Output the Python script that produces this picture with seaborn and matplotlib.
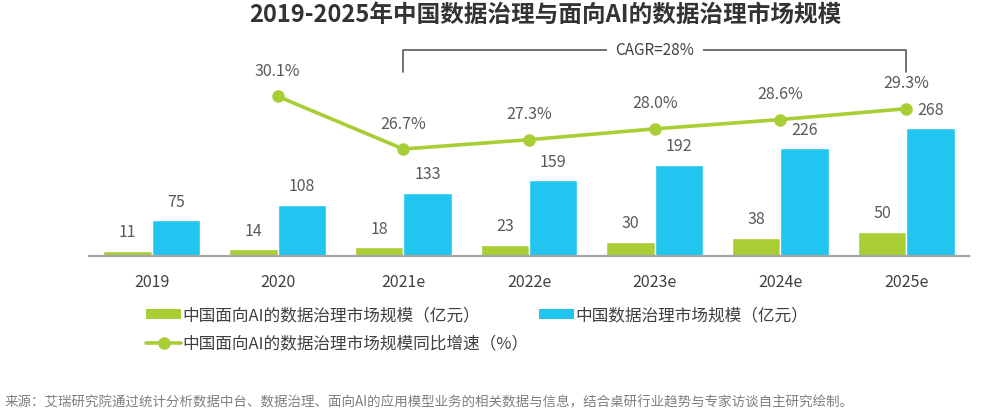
import numpy as np
import pandas as pd
import matplotlib
matplotlib.use("Agg")
import matplotlib.pyplot as plt
import matplotlib.transforms as mtransforms
from matplotlib.patches import Patch
from matplotlib.lines import Line2D
import seaborn as sns

years = ["2019", "2020", "2021e", "2022e", "2023e", "2024e", "2025e"]
ai_market = [11, 14, 18, 23, 30, 38, 50]
total_market = [75, 108, 133, 159, 192, 226, 268]
growth_years = ["2020", "2021e", "2022e", "2023e", "2024e", "2025e"]
growth = [30.1, 26.7, 27.3, 28.0, 28.6, 29.3]

name_ai = "中国面向AI的数据治理市场规模（亿元）"
name_total = "中国数据治理市场规模（亿元）"
name_growth = "中国面向AI的数据治理市场规模同比增速（%）"
title = "2019-2025年中国数据治理与面向AI的数据治理市场规模"
cagr_text = "CAGR=28%"
source = "来源：艾瑞研究院通过统计分析数据中台、数据治理、面向AI的应用模型业务的相关数据与信息，结合桌研行业趋势与专家访谈自主研究绘制。"

GREEN = "#A8CD35"
BLUE = "#21C5EF"
TXT = "#595959"

sns.set_theme(style="white")
plt.rcParams['font.family'] = ['Noto Sans CJK SC', 'DejaVu Sans']

df = pd.DataFrame({
    "year": years * 2,
    "value": ai_market + total_market,
    "series": [name_ai] * len(years) + [name_total] * len(years),
})

fig = plt.figure(figsize=(9.85, 4.15), dpi=100)
ax = fig.add_axes([89 / 985, (415 - 256) / 415, 880 / 985, 216 / 415])

sns.barplot(data=df, x="year", y="value", hue="series", order=years,
            hue_order=[name_ai, name_total], palette=[GREEN, BLUE],
            width=0.77, gap=0, saturation=1, ax=ax, legend=False)
for cont in ax.containers:
    ax.bar_label(cont, fmt="%d", padding=7, fontsize=11.5, color=TXT)
ax.set_ylim(0, 454)
ax.set_xlim(-0.5, len(years) - 0.5)
ax.set_xlabel("")
ax.set_ylabel("")
ax.set_yticks([])
for s in ["top", "right", "left"]:
    ax.spines[s].set_visible(False)
ax.spines["bottom"].set_color("#A6A6A6")
ax.spines["bottom"].set_linewidth(1.6)
ax.tick_params(axis="x", length=0, pad=13, labelsize=11.5, labelcolor="#404040")

ax2 = ax.twinx()
xpos = [years.index(y) for y in growth_years]
sns.lineplot(x=xpos, y=growth, color=GREEN, linewidth=2.6, marker="o",
             markersize=9, markeredgewidth=0, ax=ax2)
for x, v in zip(xpos, growth):
    ax2.annotate(f"{v:.1f}%", (x, v), xytext=(0, 18), textcoords="offset points",
                 ha="center", va="center", fontsize=11.5, color=TXT)
ax2.set_ylim(19.80, 33.73)
ax2.set_xlim(-0.5, len(years) - 0.5)
ax2.set_yticks([])
ax2.set_ylabel("")
for s in ["top", "right", "left", "bottom"]:
    ax2.spines[s].set_visible(False)

# CAGR bracket
tr = mtransforms.blended_transform_factory(ax.transData, fig.transFigure)
x0 = years.index("2021e")
x1 = years.index("2025e")
ytop = (415 - 50) / 415
ybot = (415 - 72) / 415
ax.plot([x0, x0, x1, x1], [ybot, ytop, ytop, ybot], transform=tr,
        color="#595959", linewidth=1.2, clip_on=False)
ax.text((x0 + x1) / 2, ytop, cagr_text, transform=tr, ha="center", va="center",
        fontsize=11, color="#404040",
        bbox=dict(facecolor="white", edgecolor="none", pad=6))

fig.text(545 / 985, (415 - 15) / 415, title, ha="center", va="center",
         fontsize=17, fontweight="bold", color="#333333")

handles = [Patch(facecolor=GREEN, edgecolor="none"),
           Line2D([0], [0], color=GREEN, linewidth=2.6, marker="o", markersize=8),
           Patch(facecolor=BLUE, edgecolor="none")]
labels = [name_ai, name_growth, name_total]
fig.legend(handles, labels, loc="upper left", bbox_to_anchor=(146 / 985, (415 - 307) / 415),
           ncol=2, frameon=False, fontsize=12, handlelength=2.1, handleheight=0.5,
           handletextpad=0.1, columnspacing=0.6, labelspacing=0.65,
           borderpad=0, borderaxespad=0, labelcolor="#404040")

fig.text(5 / 985, (415 - 402) / 415, source, ha="left", va="center",
         fontsize=9.7, color="#7F7F7F")

fig.savefig("out.png", dpi=100)
